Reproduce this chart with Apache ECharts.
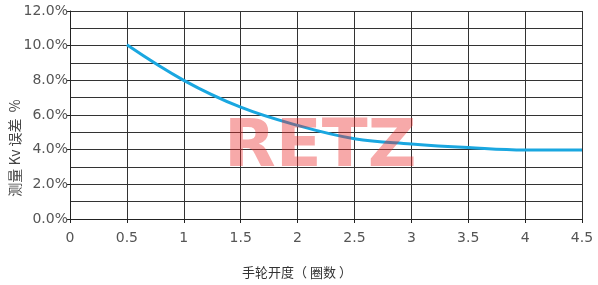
<!DOCTYPE html>
<html>
<head>
<meta charset="utf-8">
<script src="https://cdn.jsdelivr.net/npm/echarts@6/dist/echarts.min.js"></script>
<style>
html,body{margin:0;padding:0;background:#fff;}
#c{width:598px;height:285px;}
</style>
</head>
<body>
<div id="c"></div>
<script>
// Data
var turns = [0.5, 1, 1.5, 2, 2.5, 3, 3.5, 4, 4.5];
var kvError = [10.05, 8.0, 6.45, 5.4, 4.63, 4.33, 4.12, 3.98, 3.98];
var xTitle = '手轮开度（ 圈数 ）';
var yTitle = '测量 Kv 误差  %';
var watermark = 'RETZ';

var chart = echarts.init(document.getElementById('c'), null, {renderer: 'canvas'});
var labelFont = 'DejaVu Sans';
chart.setOption({
  animation: false,
  backgroundColor: '#fff',
  grid: {left: 70, right: 16, top: 11, bottom: 66, containLabel: false, outerBoundsMode: 'none'},
  xAxis: {
    type: 'value', min: 0, max: 4.5, interval: 0.5,
    name: xTitle, nameLocation: 'middle', nameGap: 47, nameMoveOverlap: false,
    nameTextStyle: {fontFamily: 'Noto Sans CJK SC', fontSize: 13, color: '#333', padding: [0, 58, 0, 0]},
    axisLine: {show: true, onZero: false, lineStyle: {color: '#222', width: 1}},
    axisTick: {show: true, length: 4, inside: false, lineStyle: {color: '#222'}},
    axisLabel: {fontFamily: labelFont, fontSize: 14, color: '#555', margin: 12,
      formatter: function (v) { return String(v); }},
    splitLine: {show: true, lineStyle: {color: '#333', width: 1}}
  },
  yAxis: {
    type: 'value', min: 0, max: 12, interval: 2,
    name: yTitle, nameLocation: 'middle', nameGap: 48, nameRotate: 90, nameMoveOverlap: false,
    nameTextStyle: {fontFamily: 'Noto Sans CJK SC', fontSize: 14, color: '#444', padding: [0, 66, 0, 0]},
    axisLine: {show: true, lineStyle: {color: '#222', width: 1}},
    axisTick: {show: true, length: 3, lineStyle: {color: '#222'}},
    axisLabel: {fontFamily: labelFont, fontSize: 14, color: '#555', margin: 2,
      formatter: function (v) { return v.toFixed(1) + '%'; }},
    splitLine: {show: true, lineStyle: {color: '#333', width: 1}},
    minorTick: {show: false, splitNumber: 2},
    minorSplitLine: {show: true, lineStyle: {color: '#333', width: 1}}
  },
  series: [{
    type: 'line',
    data: turns.map(function (t, i) { return [t, kvError[i]]; }),
    smooth: 0.4,
    showSymbol: false,
    lineStyle: {color: '#1aa7e0', width: 3},
    z: 3
  }],
  graphic: [{
    type: 'text',
    left: 224, top: 116,
    z: 100,
    scaleX: 1.02,
    style: {
      text: watermark,
      font: 'bold 66px "DejaVu Sans"',
      fill: 'rgba(235,40,40,0.4)'
    }
  }]
});
</script>
</body>
</html>
